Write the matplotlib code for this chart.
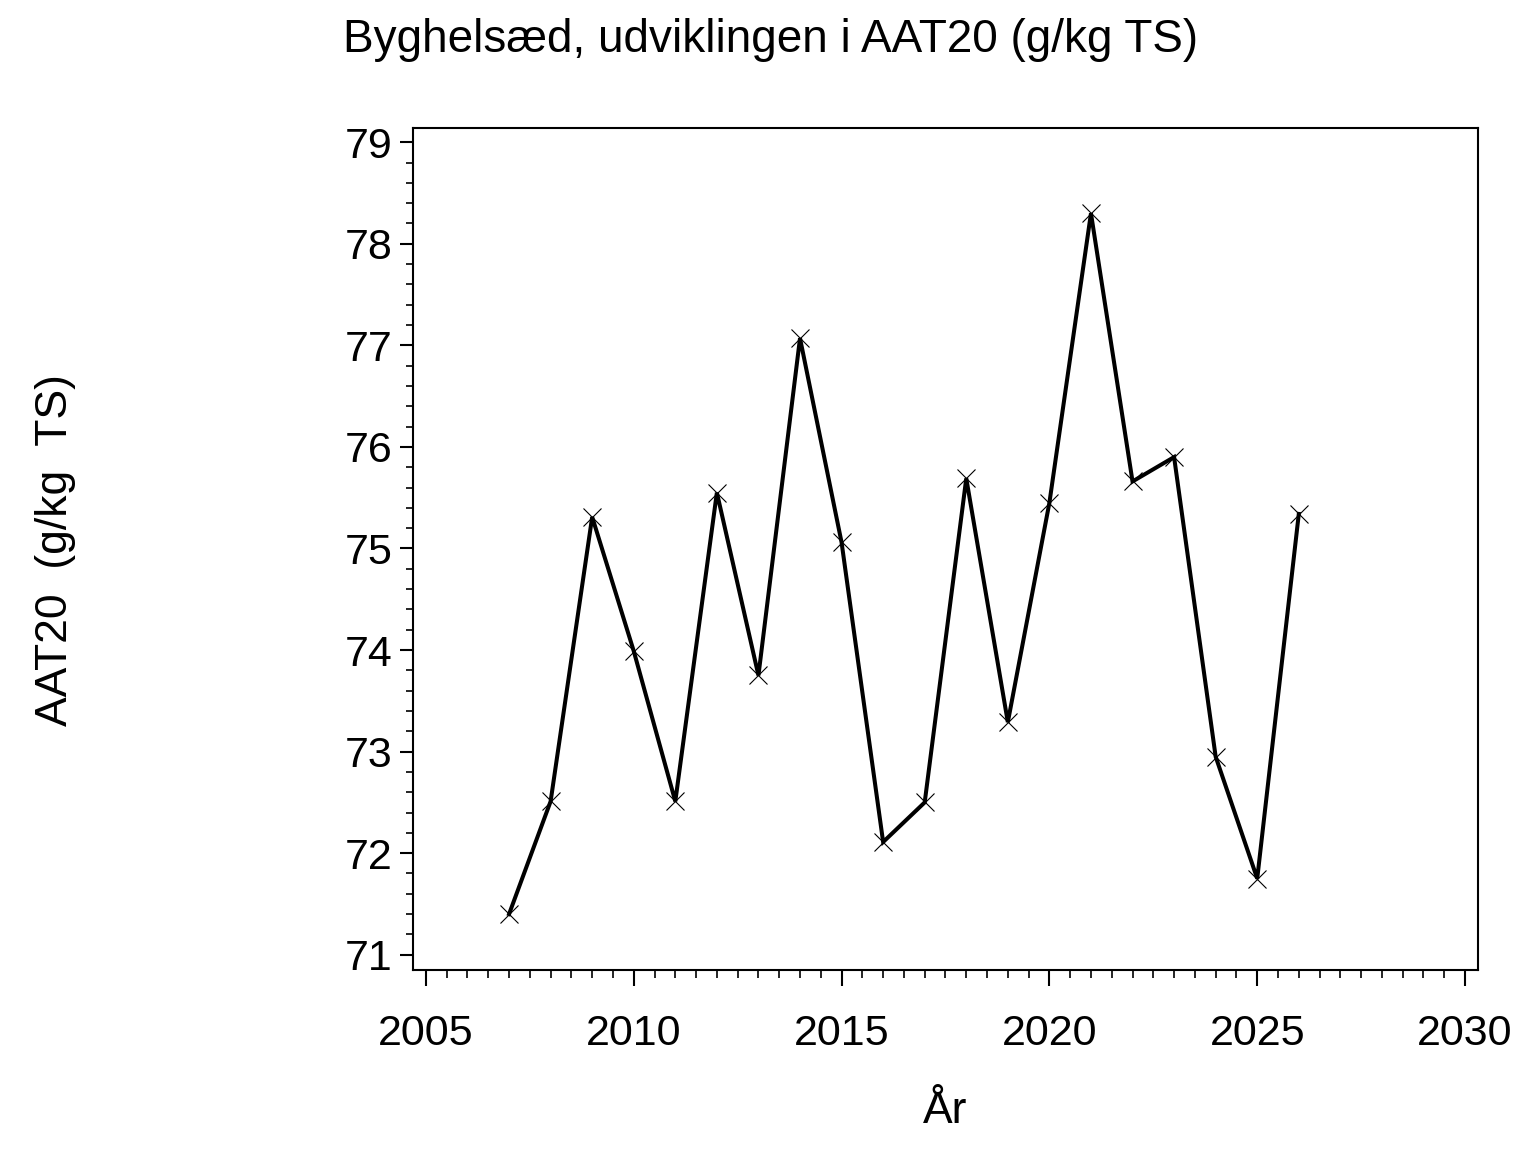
import numpy as np
import matplotlib
matplotlib.use('Agg')
import matplotlib.pyplot as plt
from matplotlib.ticker import MultipleLocator

# data
years = [2007, 2008, 2009, 2010, 2011, 2012, 2013, 2014, 2015, 2016,
         2017, 2018, 2019, 2020, 2021, 2022, 2023, 2024, 2025, 2026]
aat20 = [71.40, 72.51, 75.31, 73.99, 72.51, 75.55, 73.75, 77.07, 75.06, 72.11,
         72.50, 75.69, 73.29, 75.45, 78.30, 75.66, 75.90, 72.95, 71.75, 75.34]

title = 'Byghelsæd, udviklingen i AAT20 (g/kg TS)'
ylabel = 'AAT20  (g/kg  TS)'
xlabel = 'År'

plt.rcParams['font.family'] = ['Liberation Sans', 'DejaVu Sans']

fig = plt.figure(figsize=(15.36, 11.52), dpi=100)
ax = fig.add_axes([0.2689, 0.158, 0.6933, 0.7309])

ax.plot(years, aat20, color='black', linewidth=2.9, solid_joinstyle='miter')
ax.plot(years, aat20, linestyle='none', marker='x', markersize=12.5,
        markeredgewidth=0.8, color='black')

ax.set_xlim(2004.69, 2030.31)
ax.set_ylim(70.85, 79.14)
ax.xaxis.set_major_locator(MultipleLocator(5))
ax.xaxis.set_minor_locator(MultipleLocator(0.5))
ax.yaxis.set_major_locator(MultipleLocator(1))
ax.yaxis.set_minor_locator(MultipleLocator(0.2))

for s in ax.spines.values():
    s.set_linewidth(1.5)

ax.tick_params(axis='x', which='major', length=11.5, width=1.5, pad=20, labelsize=31)
ax.tick_params(axis='x', which='minor', length=5.5, width=1.2)
ax.tick_params(axis='y', which='major', length=9.5, width=1.5, pad=5, labelsize=31)
ax.tick_params(axis='y', which='minor', length=5, width=1.2)

ax.set_xlabel(xlabel, fontsize=32, labelpad=27)

fig.text(56 / 1536, 1 - 550 / 1152, ylabel, fontsize=32, rotation=90,
         ha='center', va='center')
fig.text(343 / 1536, 1 - 40 / 1152, title, fontsize=33, ha='left', va='center')

fig.savefig('out.png', dpi=100)
